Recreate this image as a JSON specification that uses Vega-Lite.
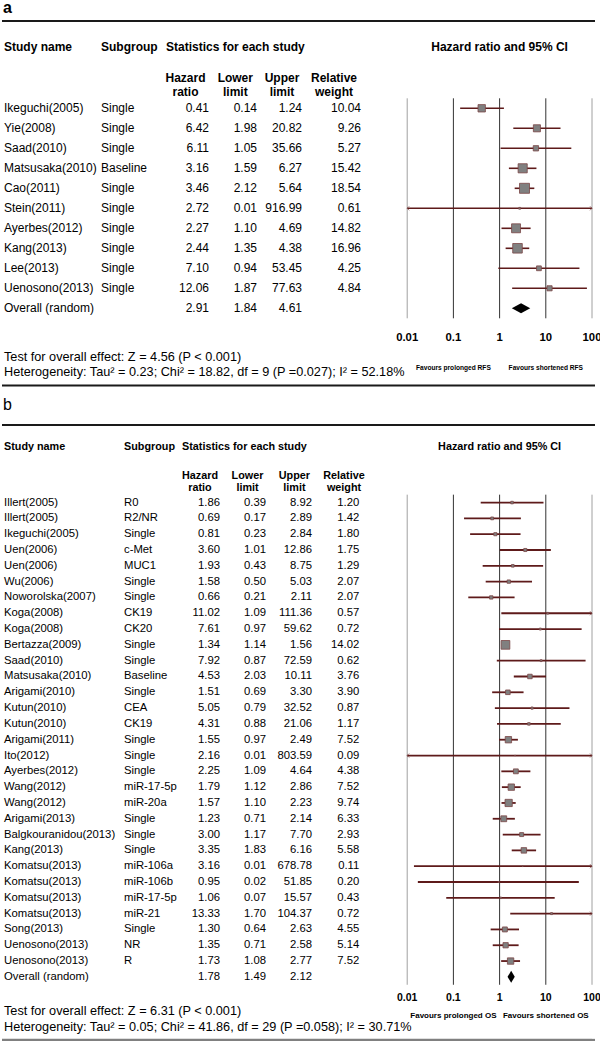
{
"$schema":"https://vega.github.io/schema/vega-lite/v6.json",
"padding":0,
"background":"white",
"autosize":{"type":"pad"},
"columns":8,
"spacing":{"row":7,"column":0},
"bounds":"flush",
"align":"each",
"config":{"view":{"stroke":null},"text":{"font":"Liberation Sans","color":"#000000"}},
"datasets":{
"rowsA":[
{"id":"r1","study":"Ikeguchi(2005)","sub":"Single","hr":0.41,"lo":0.14,"hi":1.24,"w":10.04},
{"id":"r2","study":"Yie(2008)","sub":"Single","hr":6.42,"lo":1.98,"hi":20.82,"w":9.26},
{"id":"r3","study":"Saad(2010)","sub":"Single","hr":6.11,"lo":1.05,"hi":35.66,"w":5.27},
{"id":"r4","study":"Matsusaka(2010)","sub":"Baseline","hr":3.16,"lo":1.59,"hi":6.27,"w":15.42},
{"id":"r5","study":"Cao(2011)","sub":"Single","hr":3.46,"lo":2.12,"hi":5.64,"w":18.54},
{"id":"r6","study":"Stein(2011)","sub":"Single","hr":2.72,"lo":0.01,"hi":916.99,"w":0.61},
{"id":"r7","study":"Ayerbes(2012)","sub":"Single","hr":2.27,"lo":1.10,"hi":4.69,"w":14.82},
{"id":"r8","study":"Kang(2013)","sub":"Single","hr":2.44,"lo":1.35,"hi":4.38,"w":16.96},
{"id":"r9","study":"Lee(2013)","sub":"Single","hr":7.10,"lo":0.94,"hi":53.45,"w":4.25},
{"id":"r10","study":"Uenosono(2013)","sub":"Single","hr":12.06,"lo":1.87,"hi":77.63,"w":4.84},
{"id":"overall","study":"Overall (random)","sub":"","hr":2.91,"lo":1.84,"hi":4.61,"w":null}
],
"rowsB":[
{"id":"r1","study":"Illert(2005)","sub":"R0","hr":1.86,"lo":0.39,"hi":8.92,"w":1.20},
{"id":"r2","study":"Illert(2005)","sub":"R2/NR","hr":0.69,"lo":0.17,"hi":2.89,"w":1.42},
{"id":"r3","study":"Ikeguchi(2005)","sub":"Single","hr":0.81,"lo":0.23,"hi":2.84,"w":1.80},
{"id":"r4","study":"Uen(2006)","sub":"c-Met","hr":3.60,"lo":1.01,"hi":12.86,"w":1.75},
{"id":"r5","study":"Uen(2006)","sub":"MUC1","hr":1.93,"lo":0.43,"hi":8.75,"w":1.29},
{"id":"r6","study":"Wu(2006)","sub":"Single","hr":1.58,"lo":0.50,"hi":5.03,"w":2.07},
{"id":"r7","study":"Noworolska(2007)","sub":"Single","hr":0.66,"lo":0.21,"hi":2.11,"w":2.07},
{"id":"r8","study":"Koga(2008)","sub":"CK19","hr":11.02,"lo":1.09,"hi":111.36,"w":0.57},
{"id":"r9","study":"Koga(2008)","sub":"CK20","hr":7.61,"lo":0.97,"hi":59.62,"w":0.72},
{"id":"r10","study":"Bertazza(2009)","sub":"Single","hr":1.34,"lo":1.14,"hi":1.56,"w":14.02},
{"id":"r11","study":"Saad(2010)","sub":"Single","hr":7.92,"lo":0.87,"hi":72.59,"w":0.62},
{"id":"r12","study":"Matsusaka(2010)","sub":"Baseline","hr":4.53,"lo":2.03,"hi":10.11,"w":3.76},
{"id":"r13","study":"Arigami(2010)","sub":"Single","hr":1.51,"lo":0.69,"hi":3.30,"w":3.90},
{"id":"r14","study":"Kutun(2010)","sub":"CEA","hr":5.05,"lo":0.79,"hi":32.52,"w":0.87},
{"id":"r15","study":"Kutun(2010)","sub":"CK19","hr":4.31,"lo":0.88,"hi":21.06,"w":1.17},
{"id":"r16","study":"Arigami(2011)","sub":"Single","hr":1.55,"lo":0.97,"hi":2.49,"w":7.52},
{"id":"r17","study":"Ito(2012)","sub":"Single","hr":2.16,"lo":0.01,"hi":803.59,"w":0.09},
{"id":"r18","study":"Ayerbes(2012)","sub":"Single","hr":2.25,"lo":1.09,"hi":4.64,"w":4.38},
{"id":"r19","study":"Wang(2012)","sub":"miR-17-5p","hr":1.79,"lo":1.12,"hi":2.86,"w":7.52},
{"id":"r20","study":"Wang(2012)","sub":"miR-20a","hr":1.57,"lo":1.10,"hi":2.23,"w":9.74},
{"id":"r21","study":"Arigami(2013)","sub":"Single","hr":1.23,"lo":0.71,"hi":2.14,"w":6.33},
{"id":"r22","study":"Balgkouranidou(2013)","sub":"Single","hr":3.00,"lo":1.17,"hi":7.70,"w":2.93},
{"id":"r23","study":"Kang(2013)","sub":"Single","hr":3.35,"lo":1.83,"hi":6.16,"w":5.58},
{"id":"r24","study":"Komatsu(2013)","sub":"miR-106a","hr":3.16,"lo":0.014,"hi":678.78,"w":0.11},
{"id":"r25","study":"Komatsu(2013)","sub":"miR-106b","hr":0.95,"lo":0.017,"hi":51.85,"w":0.20},
{"id":"r26","study":"Komatsu(2013)","sub":"miR-17-5p","hr":1.06,"lo":0.07,"hi":15.57,"w":0.43},
{"id":"r27","study":"Komatsu(2013)","sub":"miR-21","hr":13.33,"lo":1.70,"hi":104.37,"w":0.72},
{"id":"r28","study":"Song(2013)","sub":"Single","hr":1.30,"lo":0.64,"hi":2.63,"w":4.55},
{"id":"r29","study":"Uenosono(2013)","sub":"NR","hr":1.35,"lo":0.71,"hi":2.58,"w":5.14},
{"id":"r30","study":"Uenosono(2013)","sub":"R","hr":1.73,"lo":1.08,"hi":2.77,"w":7.52},
{"id":"overall","study":"Overall (random)","sub":"","hr":1.78,"lo":1.49,"hi":2.12,"w":null}
]
},
"concat":[
{"width":122,"height":376.6,
"encoding":{"y":{"field":"id","type":"nominal","axis":null,"scale":{"type":"point","padding":0.83,"domain":["label","rule","_2","_3","head","_5","_6","sub","_8","gtop","r1","_11","r2","_13","r3","_15","r4","_17","r5","_19","r6","_21","r7","_23","r8","_25","r9","_27","r10","_29","overall","gbot","_32","axis","_34","test","het"]}}},
"layer":[
{"data":{"values":[{"id":"rule"}]},"mark":{"type":"rule","color":"#1a1a1a","strokeWidth":2,"yOffset":2.7},"encoding":{}},
{"data":{"values":[{"id":"label","t":"a"}]},"mark":{"type":"text","align":"left","fontSize":16,"fontWeight":"bold","dx":1},"encoding":{"x":{"datum":"start","type":"nominal","axis":null,"scale":{"type":"point","domain":["start","end"],"padding":0}},"text":{"field":"t"}}},
{"data":{"values":[{"id":"head","t":"Study name"}]},"mark":{"type":"text","align":"left","fontSize":12,"fontWeight":"bold","dx":2,"dy":-1},"encoding":{"x":{"datum":"start","type":"nominal","axis":null,"scale":{"type":"point","domain":["start","end"],"padding":0}},"text":{"field":"t"}}},
{"data":{"name":"rowsA"},"mark":{"type":"text","align":"left","fontSize":12,"dx":2},"encoding":{"x":{"datum":"start","type":"nominal","axis":null,"scale":{"type":"point","domain":["start","end"],"padding":0}},"text":{"field":"study"}}},
{"data":{"values":[{"id":"test","t":"Test for overall effect: Z = 4.56 (P < 0.001)"}]},"mark":{"type":"text","align":"left","fontSize":12.7,"dx":2,"dy":-1},"encoding":{"x":{"datum":"start","type":"nominal","axis":null,"scale":{"type":"point","domain":["start","end"],"padding":0}},"text":{"field":"t"}}},
{"data":{"values":[{"id":"het","t":"Heterogeneity: Tau² = 0.23; Chi² = 18.82, df = 9 (P =0.027); I² = 52.18%"}]},"mark":{"type":"text","align":"left","fontSize":12.7,"dx":2,"dy":3.5},"encoding":{"x":{"datum":"start","type":"nominal","axis":null,"scale":{"type":"point","domain":["start","end"],"padding":0}},"text":{"field":"t"}}}
]},
{"width":53,"height":376.6,
"encoding":{"y":{"field":"id","type":"nominal","axis":null,"scale":{"type":"point","padding":0.83,"domain":["label","rule","_2","_3","head","_5","_6","sub","_8","gtop","r1","_11","r2","_13","r3","_15","r4","_17","r5","_19","r6","_21","r7","_23","r8","_25","r9","_27","r10","_29","overall","gbot","_32","axis","_34","test","het"]}}},
"layer":[
{"data":{"values":[{"id":"rule"}]},"mark":{"type":"rule","color":"#1a1a1a","strokeWidth":2,"yOffset":2.7},"encoding":{}},
{"data":{"values":[{"id":"head","t":"Subgroup"}]},"mark":{"type":"text","align":"left","fontSize":12,"fontWeight":"bold","dx":-23,"dy":-1},"encoding":{"x":{"datum":"start","type":"nominal","axis":null,"scale":{"type":"point","domain":["start","end"],"padding":0}},"text":{"field":"t"}}},
{"data":{"name":"rowsA"},"mark":{"type":"text","align":"left","fontSize":12,"dx":-23},"encoding":{"x":{"datum":"start","type":"nominal","axis":null,"scale":{"type":"point","domain":["start","end"],"padding":0}},"text":{"field":"sub"}}}
]},
{"width":43,"height":376.6,
"encoding":{"y":{"field":"id","type":"nominal","axis":null,"scale":{"type":"point","padding":0.83,"domain":["label","rule","_2","_3","head","_5","_6","sub","_8","gtop","r1","_11","r2","_13","r3","_15","r4","_17","r5","_19","r6","_21","r7","_23","r8","_25","r9","_27","r10","_29","overall","gbot","_32","axis","_34","test","het"]}}},
"layer":[
{"data":{"values":[{"id":"rule"}]},"mark":{"type":"rule","color":"#1a1a1a","strokeWidth":2,"yOffset":2.7},"encoding":{}},
{"data":{"values":[{"id":"head","t":"Statistics for each study"}]},"mark":{"type":"text","align":"left","fontSize":12,"fontWeight":"bold","dx":-11,"dy":-1},"encoding":{"x":{"datum":"start","type":"nominal","axis":null,"scale":{"type":"point","domain":["start","end"],"padding":0}},"text":{"field":"t"}}},
{"data":{"values":[{"id":"sub","t":"Hazard\nratio"}]},"mark":{"type":"text","align":"center","fontSize":12,"fontWeight":"bold","lineBreak":"\n","lineHeight":14,"dx":-34.5},"encoding":{"x":{"datum":"end","type":"nominal","axis":null,"scale":{"type":"point","domain":["start","end"],"padding":0}},"text":{"field":"t"}}},
{"data":{"name":"rowsA"},"mark":{"type":"text","align":"right","fontSize":12,"dx":-11},"encoding":{"x":{"datum":"end","type":"nominal","axis":null,"scale":{"type":"point","domain":["start","end"],"padding":0}},"text":{"field":"hr","type":"quantitative","format":".2f"}}}
]},
{"width":46,"height":376.6,
"encoding":{"y":{"field":"id","type":"nominal","axis":null,"scale":{"type":"point","padding":0.83,"domain":["label","rule","_2","_3","head","_5","_6","sub","_8","gtop","r1","_11","r2","_13","r3","_15","r4","_17","r5","_19","r6","_21","r7","_23","r8","_25","r9","_27","r10","_29","overall","gbot","_32","axis","_34","test","het"]}}},
"layer":[
{"data":{"values":[{"id":"rule"}]},"mark":{"type":"rule","color":"#1a1a1a","strokeWidth":2,"yOffset":2.7},"encoding":{}},
{"data":{"values":[{"id":"sub","t":"Lower\nlimit"}]},"mark":{"type":"text","align":"center","fontSize":12,"fontWeight":"bold","lineBreak":"\n","lineHeight":14,"dx":-30.7},"encoding":{"x":{"datum":"end","type":"nominal","axis":null,"scale":{"type":"point","domain":["start","end"],"padding":0}},"text":{"field":"t"}}},
{"data":{"name":"rowsA"},"mark":{"type":"text","align":"right","fontSize":12,"dx":-9},"encoding":{"x":{"datum":"end","type":"nominal","axis":null,"scale":{"type":"point","domain":["start","end"],"padding":0}},"text":{"field":"lo","type":"quantitative","format":".2f"}}}
]},
{"width":46,"height":376.6,
"encoding":{"y":{"field":"id","type":"nominal","axis":null,"scale":{"type":"point","padding":0.83,"domain":["label","rule","_2","_3","head","_5","_6","sub","_8","gtop","r1","_11","r2","_13","r3","_15","r4","_17","r5","_19","r6","_21","r7","_23","r8","_25","r9","_27","r10","_29","overall","gbot","_32","axis","_34","test","het"]}}},
"layer":[
{"data":{"values":[{"id":"rule"}]},"mark":{"type":"rule","color":"#1a1a1a","strokeWidth":2,"yOffset":2.7},"encoding":{}},
{"data":{"values":[{"id":"sub","t":"Upper\nlimit"}]},"mark":{"type":"text","align":"center","fontSize":12,"fontWeight":"bold","lineBreak":"\n","lineHeight":14,"dx":-30},"encoding":{"x":{"datum":"end","type":"nominal","axis":null,"scale":{"type":"point","domain":["start","end"],"padding":0}},"text":{"field":"t"}}},
{"data":{"name":"rowsA"},"mark":{"type":"text","align":"right","fontSize":12,"dx":-10},"encoding":{"x":{"datum":"end","type":"nominal","axis":null,"scale":{"type":"point","domain":["start","end"],"padding":0}},"text":{"field":"hi","type":"quantitative","format":".2f"}}}
]},
{"width":49,"height":376.6,
"encoding":{"y":{"field":"id","type":"nominal","axis":null,"scale":{"type":"point","padding":0.83,"domain":["label","rule","_2","_3","head","_5","_6","sub","_8","gtop","r1","_11","r2","_13","r3","_15","r4","_17","r5","_19","r6","_21","r7","_23","r8","_25","r9","_27","r10","_29","overall","gbot","_32","axis","_34","test","het"]}}},
"layer":[
{"data":{"values":[{"id":"rule"}]},"mark":{"type":"rule","color":"#1a1a1a","strokeWidth":2,"yOffset":2.7},"encoding":{}},
{"data":{"values":[{"id":"sub","t":"Relative\nweight"}]},"mark":{"type":"text","align":"center","fontSize":12,"fontWeight":"bold","lineBreak":"\n","lineHeight":14,"dx":-27},"encoding":{"x":{"datum":"end","type":"nominal","axis":null,"scale":{"type":"point","domain":["start","end"],"padding":0}},"text":{"field":"t"}}},
{"data":{"name":"rowsA"},"transform":[{"filter":"datum.w != null"}],"mark":{"type":"text","align":"right","fontSize":12},"encoding":{"x":{"datum":"end","type":"nominal","axis":null,"scale":{"type":"point","domain":["start","end"],"padding":0}},"text":{"field":"w","type":"quantitative","format":".2f"}}}
]},
{"width":231,"height":376.6,
"encoding":{"y":{"field":"id","type":"nominal","axis":null,"scale":{"type":"point","padding":0.83,"domain":["label","rule","_2","_3","head","_5","_6","sub","_8","gtop","r1","_11","r2","_13","r3","_15","r4","_17","r5","_19","r6","_21","r7","_23","r8","_25","r9","_27","r10","_29","overall","gbot","_32","axis","_34","test","het"]}}},
"layer":[
{"data":{"values":[{"id":"rule"}]},"mark":{"type":"rule","color":"#1a1a1a","strokeWidth":2,"yOffset":2.7},"encoding":{}},
{"data":{"values":[{"id":"head","t":"Hazard ratio and 95% CI"}]},"mark":{"type":"text","align":"center","fontSize":12,"fontWeight":"bold","dy":-1},"encoding":{"x":{"datum":1,"type":"quantitative","axis":null,"scale":{"type":"log","domain":[0.001,100],"clamp":true,"nice":false}},"text":{"field":"t"}}},
{"data":{"values":[{"v":0.01},{"v":0.1},{"v":1},{"v":10},{"v":100}]},"mark":{"type":"rule","strokeWidth":1},"encoding":{"x":{"field":"v","type":"quantitative","axis":null,"scale":{"type":"log","domain":[0.001,100],"clamp":true,"nice":false}},"y":{"datum":"gtop","type":"nominal"},"y2":{"datum":"gbot"},"color":{"condition":{"test":"datum.v == 0.01 || datum.v == 100","value":"#a0a0a0"},"value":"#333333"}}},
{"data":{"values":[{"v":0.01},{"v":0.1},{"v":1},{"v":10},{"v":100}]},"mark":{"type":"text","align":"center","fontSize":11.3,"fontWeight":"bold"},"encoding":{"x":{"field":"v","type":"quantitative","axis":null,"scale":{"type":"log","domain":[0.001,100],"clamp":true,"nice":false}},"y":{"datum":"axis","type":"nominal"},"text":{"field":"v","type":"nominal"}}},
{"data":{"name":"rowsA"},"transform":[{"filter":"datum.id != 'overall'"}],"mark":{"type":"rule","color":"#5e1a1a","strokeWidth":1.6},"encoding":{"x":{"field":"lo","type":"quantitative","axis":null,"scale":{"type":"log","domain":[0.001,100],"clamp":true,"nice":false}},"x2":{"field":"hi"}}},
{"data":{"name":"rowsA"},"transform":[{"filter":"datum.hi >= 100"}],"mark":{"type":"point","shape":"M-1,-1L0,0L-1,1","filled":false,"color":"#8a5555","strokeWidth":0.8,"size":16,"opacity":1},"encoding":{"x":{"field":"hi","type":"quantitative","axis":null,"scale":{"type":"log","domain":[0.001,100],"clamp":true,"nice":false}}}},
{"data":{"name":"rowsA"},"transform":[{"filter":"datum.lo <= 0.01"}],"mark":{"type":"point","shape":"M1,-1L0,0L1,1","filled":false,"color":"#8a5555","strokeWidth":0.8,"size":16,"opacity":1},"encoding":{"x":{"field":"lo","type":"quantitative","axis":null,"scale":{"type":"log","domain":[0.001,100],"clamp":true,"nice":false}}}},
{"data":{"name":"rowsA"},"transform":[{"filter":"datum.id != 'overall'"}],"mark":{"type":"point","shape":"square","filled":true,"fill":"#808080","stroke":"#7a4545","strokeWidth":0.8,"opacity":1},"encoding":{"x":{"field":"hr","type":"quantitative","axis":null,"scale":{"type":"log","domain":[0.001,100],"clamp":true,"nice":false}},"size":{"field":"w","type":"quantitative","legend":null,"scale":{"type":"linear","domain":[0,20],"range":[0,108]}}}},
{"data":{"name":"rowsA"},"transform":[{"filter":"datum.id == 'overall'"}],"mark":{"type":"point","shape":"M-1,0L0,-0.55L1,0L0,0.55Z","filled":true,"fill":"#000000","strokeWidth":0,"size":339,"opacity":1},"encoding":{"x":{"field":"hr","type":"quantitative","axis":null,"scale":{"type":"log","domain":[0.001,100],"clamp":true,"nice":false}}}},
{"data":{"values":[{"id":"het","v":0.1,"t":"Favours prolonged RFS"},{"id":"het","v":10,"t":"Favours shortened RFS"}]},"mark":{"type":"text","align":"center","fontSize":6.6,"fontWeight":"bold"},"encoding":{"x":{"field":"v","type":"quantitative","axis":null,"scale":{"type":"log","domain":[0.001,100],"clamp":true,"nice":false}},"text":{"field":"t"}}}
]},
{"width":3,"height":376.6,
"encoding":{"y":{"field":"id","type":"nominal","axis":null,"scale":{"type":"point","padding":0.83,"domain":["label","rule","_2","_3","head","_5","_6","sub","_8","gtop","r1","_11","r2","_13","r3","_15","r4","_17","r5","_19","r6","_21","r7","_23","r8","_25","r9","_27","r10","_29","overall","gbot","_32","axis","_34","test","het"]}}},
"layer":[
{"data":{"values":[{"id":"rule"}]},"mark":{"type":"rule","color":"#1a1a1a","strokeWidth":2,"yOffset":2.7},"encoding":{}}
]},
{"width":122,"height":656.1,
"encoding":{"y":{"field":"id","type":"nominal","axis":null,"scale":{"type":"point","padding":0,"domain":["rule0","_1","_2","label","_4","rule1","_6","_7","head","_9","_10","_11","sub","_13","gtop","r1","_16","r2","_18","r3","_20","r4","_22","r5","_24","r6","_26","r7","_28","r8","_30","r9","_32","r10","_34","r11","_36","r12","_38","r13","_40","r14","_42","r15","_44","r16","_46","r17","_48","r18","_50","r19","_52","r20","_54","r21","_56","r22","_58","r23","_60","r24","_62","r25","_64","r26","_66","r27","_68","r28","_70","r29","_72","r30","_74","overall","gbot","_77","axis","test","fav","het","_82","rule2"]}}},
"layer":[
{"data":{"values":[{"id":"rule0"},{"id":"rule1"}]},"mark":{"type":"rule","color":"#1a1a1a","strokeWidth":2,"yOffset":1.5},"encoding":{}},
{"data":{"values":[{"id":"rule2"}]},"mark":{"type":"rule","color":"#808080","strokeWidth":2.5},"encoding":{}},
{"data":{"values":[{"id":"label","t":"b"}]},"mark":{"type":"text","align":"left","fontSize":16,"dx":1,"dy":-2.5},"encoding":{"x":{"datum":"start","type":"nominal","axis":null,"scale":{"type":"point","domain":["start","end"],"padding":0}},"text":{"field":"t"}}},
{"data":{"values":[{"id":"head","t":"Study name"}]},"mark":{"type":"text","align":"left","fontSize":10.8,"fontWeight":"bold","dx":2},"encoding":{"x":{"datum":"start","type":"nominal","axis":null,"scale":{"type":"point","domain":["start","end"],"padding":0}},"text":{"field":"t"}}},
{"data":{"name":"rowsB"},"mark":{"type":"text","align":"left","fontSize":11.3,"dx":2},"encoding":{"x":{"datum":"start","type":"nominal","axis":null,"scale":{"type":"point","domain":["start","end"],"padding":0}},"text":{"field":"study"}}},
{"data":{"values":[{"id":"test","t":"Test for overall effect: Z = 6.31 (P < 0.001)"}]},"mark":{"type":"text","align":"left","fontSize":12.7,"dx":2,"dy":3},"encoding":{"x":{"datum":"start","type":"nominal","axis":null,"scale":{"type":"point","domain":["start","end"],"padding":0}},"text":{"field":"t"}}},
{"data":{"values":[{"id":"het","t":"Heterogeneity: Tau² = 0.05; Chi² = 41.86, df = 29 (P =0.058); I² = 30.71%"}]},"mark":{"type":"text","align":"left","fontSize":12.7,"dx":2,"dy":3},"encoding":{"x":{"datum":"start","type":"nominal","axis":null,"scale":{"type":"point","domain":["start","end"],"padding":0}},"text":{"field":"t"}}}
]},
{"width":53,"height":656.1,
"encoding":{"y":{"field":"id","type":"nominal","axis":null,"scale":{"type":"point","padding":0,"domain":["rule0","_1","_2","label","_4","rule1","_6","_7","head","_9","_10","_11","sub","_13","gtop","r1","_16","r2","_18","r3","_20","r4","_22","r5","_24","r6","_26","r7","_28","r8","_30","r9","_32","r10","_34","r11","_36","r12","_38","r13","_40","r14","_42","r15","_44","r16","_46","r17","_48","r18","_50","r19","_52","r20","_54","r21","_56","r22","_58","r23","_60","r24","_62","r25","_64","r26","_66","r27","_68","r28","_70","r29","_72","r30","_74","overall","gbot","_77","axis","test","fav","het","_82","rule2"]}}},
"layer":[
{"data":{"values":[{"id":"rule0"},{"id":"rule1"}]},"mark":{"type":"rule","color":"#1a1a1a","strokeWidth":2,"yOffset":1.5},"encoding":{}},
{"data":{"values":[{"id":"rule2"}]},"mark":{"type":"rule","color":"#808080","strokeWidth":2.5},"encoding":{}},
{"data":{"values":[{"id":"head","t":"Subgroup"}]},"mark":{"type":"text","align":"left","fontSize":10.8,"fontWeight":"bold"},"encoding":{"x":{"datum":"start","type":"nominal","axis":null,"scale":{"type":"point","domain":["start","end"],"padding":0}},"text":{"field":"t"}}},
{"data":{"name":"rowsB"},"mark":{"type":"text","align":"left","fontSize":11.3},"encoding":{"x":{"datum":"start","type":"nominal","axis":null,"scale":{"type":"point","domain":["start","end"],"padding":0}},"text":{"field":"sub"}}}
]},
{"width":43,"height":656.1,
"encoding":{"y":{"field":"id","type":"nominal","axis":null,"scale":{"type":"point","padding":0,"domain":["rule0","_1","_2","label","_4","rule1","_6","_7","head","_9","_10","_11","sub","_13","gtop","r1","_16","r2","_18","r3","_20","r4","_22","r5","_24","r6","_26","r7","_28","r8","_30","r9","_32","r10","_34","r11","_36","r12","_38","r13","_40","r14","_42","r15","_44","r16","_46","r17","_48","r18","_50","r19","_52","r20","_54","r21","_56","r22","_58","r23","_60","r24","_62","r25","_64","r26","_66","r27","_68","r28","_70","r29","_72","r30","_74","overall","gbot","_77","axis","test","fav","het","_82","rule2"]}}},
"layer":[
{"data":{"values":[{"id":"rule0"},{"id":"rule1"}]},"mark":{"type":"rule","color":"#1a1a1a","strokeWidth":2,"yOffset":1.5},"encoding":{}},
{"data":{"values":[{"id":"rule2"}]},"mark":{"type":"rule","color":"#808080","strokeWidth":2.5},"encoding":{}},
{"data":{"values":[{"id":"head","t":"Statistics for each study"}]},"mark":{"type":"text","align":"left","fontSize":10.8,"fontWeight":"bold","dx":5},"encoding":{"x":{"datum":"start","type":"nominal","axis":null,"scale":{"type":"point","domain":["start","end"],"padding":0}},"text":{"field":"t"}}},
{"data":{"values":[{"id":"sub","t":"Hazard\nratio"}]},"mark":{"type":"text","align":"center","fontSize":10.8,"fontWeight":"bold","lineBreak":"\n","lineHeight":12,"dx":-20,"dy":-3},"encoding":{"x":{"datum":"end","type":"nominal","axis":null,"scale":{"type":"point","domain":["start","end"],"padding":0}},"text":{"field":"t"}}},
{"data":{"name":"rowsB"},"mark":{"type":"text","align":"right","fontSize":11.3},"encoding":{"x":{"datum":"end","type":"nominal","axis":null,"scale":{"type":"point","domain":["start","end"],"padding":0}},"text":{"field":"hr","type":"quantitative","format":".2f"}}}
]},
{"width":46,"height":656.1,
"encoding":{"y":{"field":"id","type":"nominal","axis":null,"scale":{"type":"point","padding":0,"domain":["rule0","_1","_2","label","_4","rule1","_6","_7","head","_9","_10","_11","sub","_13","gtop","r1","_16","r2","_18","r3","_20","r4","_22","r5","_24","r6","_26","r7","_28","r8","_30","r9","_32","r10","_34","r11","_36","r12","_38","r13","_40","r14","_42","r15","_44","r16","_46","r17","_48","r18","_50","r19","_52","r20","_54","r21","_56","r22","_58","r23","_60","r24","_62","r25","_64","r26","_66","r27","_68","r28","_70","r29","_72","r30","_74","overall","gbot","_77","axis","test","fav","het","_82","rule2"]}}},
"layer":[
{"data":{"values":[{"id":"rule0"},{"id":"rule1"}]},"mark":{"type":"rule","color":"#1a1a1a","strokeWidth":2,"yOffset":1.5},"encoding":{}},
{"data":{"values":[{"id":"rule2"}]},"mark":{"type":"rule","color":"#808080","strokeWidth":2.5},"encoding":{}},
{"data":{"values":[{"id":"sub","t":"Lower\nlimit"}]},"mark":{"type":"text","align":"center","fontSize":10.8,"fontWeight":"bold","lineBreak":"\n","lineHeight":12,"dx":-18.5,"dy":-3},"encoding":{"x":{"datum":"end","type":"nominal","axis":null,"scale":{"type":"point","domain":["start","end"],"padding":0}},"text":{"field":"t"}}},
{"data":{"name":"rowsB"},"mark":{"type":"text","align":"right","fontSize":11.3},"encoding":{"x":{"datum":"end","type":"nominal","axis":null,"scale":{"type":"point","domain":["start","end"],"padding":0}},"text":{"field":"lo","type":"quantitative","format":".2f"}}}
]},
{"width":46,"height":656.1,
"encoding":{"y":{"field":"id","type":"nominal","axis":null,"scale":{"type":"point","padding":0,"domain":["rule0","_1","_2","label","_4","rule1","_6","_7","head","_9","_10","_11","sub","_13","gtop","r1","_16","r2","_18","r3","_20","r4","_22","r5","_24","r6","_26","r7","_28","r8","_30","r9","_32","r10","_34","r11","_36","r12","_38","r13","_40","r14","_42","r15","_44","r16","_46","r17","_48","r18","_50","r19","_52","r20","_54","r21","_56","r22","_58","r23","_60","r24","_62","r25","_64","r26","_66","r27","_68","r28","_70","r29","_72","r30","_74","overall","gbot","_77","axis","test","fav","het","_82","rule2"]}}},
"layer":[
{"data":{"values":[{"id":"rule0"},{"id":"rule1"}]},"mark":{"type":"rule","color":"#1a1a1a","strokeWidth":2,"yOffset":1.5},"encoding":{}},
{"data":{"values":[{"id":"rule2"}]},"mark":{"type":"rule","color":"#808080","strokeWidth":2.5},"encoding":{}},
{"data":{"values":[{"id":"sub","t":"Upper\nlimit"}]},"mark":{"type":"text","align":"center","fontSize":10.8,"fontWeight":"bold","lineBreak":"\n","lineHeight":12,"dx":-17.6,"dy":-3},"encoding":{"x":{"datum":"end","type":"nominal","axis":null,"scale":{"type":"point","domain":["start","end"],"padding":0}},"text":{"field":"t"}}},
{"data":{"name":"rowsB"},"mark":{"type":"text","align":"right","fontSize":11.3},"encoding":{"x":{"datum":"end","type":"nominal","axis":null,"scale":{"type":"point","domain":["start","end"],"padding":0}},"text":{"field":"hi","type":"quantitative","format":".2f"}}}
]},
{"width":49,"height":656.1,
"encoding":{"y":{"field":"id","type":"nominal","axis":null,"scale":{"type":"point","padding":0,"domain":["rule0","_1","_2","label","_4","rule1","_6","_7","head","_9","_10","_11","sub","_13","gtop","r1","_16","r2","_18","r3","_20","r4","_22","r5","_24","r6","_26","r7","_28","r8","_30","r9","_32","r10","_34","r11","_36","r12","_38","r13","_40","r14","_42","r15","_44","r16","_46","r17","_48","r18","_50","r19","_52","r20","_54","r21","_56","r22","_58","r23","_60","r24","_62","r25","_64","r26","_66","r27","_68","r28","_70","r29","_72","r30","_74","overall","gbot","_77","axis","test","fav","het","_82","rule2"]}}},
"layer":[
{"data":{"values":[{"id":"rule0"},{"id":"rule1"}]},"mark":{"type":"rule","color":"#1a1a1a","strokeWidth":2,"yOffset":1.5},"encoding":{}},
{"data":{"values":[{"id":"rule2"}]},"mark":{"type":"rule","color":"#808080","strokeWidth":2.5},"encoding":{}},
{"data":{"values":[{"id":"sub","t":"Relative\nweight"}]},"mark":{"type":"text","align":"center","fontSize":10.8,"fontWeight":"bold","lineBreak":"\n","lineHeight":12,"dx":-17,"dy":-3},"encoding":{"x":{"datum":"end","type":"nominal","axis":null,"scale":{"type":"point","domain":["start","end"],"padding":0}},"text":{"field":"t"}}},
{"data":{"name":"rowsB"},"transform":[{"filter":"datum.w != null"}],"mark":{"type":"text","align":"right","fontSize":11.3,"dx":-1.7},"encoding":{"x":{"datum":"end","type":"nominal","axis":null,"scale":{"type":"point","domain":["start","end"],"padding":0}},"text":{"field":"w","type":"quantitative","format":".2f"}}}
]},
{"width":231,"height":656.1,
"encoding":{"y":{"field":"id","type":"nominal","axis":null,"scale":{"type":"point","padding":0,"domain":["rule0","_1","_2","label","_4","rule1","_6","_7","head","_9","_10","_11","sub","_13","gtop","r1","_16","r2","_18","r3","_20","r4","_22","r5","_24","r6","_26","r7","_28","r8","_30","r9","_32","r10","_34","r11","_36","r12","_38","r13","_40","r14","_42","r15","_44","r16","_46","r17","_48","r18","_50","r19","_52","r20","_54","r21","_56","r22","_58","r23","_60","r24","_62","r25","_64","r26","_66","r27","_68","r28","_70","r29","_72","r30","_74","overall","gbot","_77","axis","test","fav","het","_82","rule2"]}}},
"layer":[
{"data":{"values":[{"id":"rule0"},{"id":"rule1"}]},"mark":{"type":"rule","color":"#1a1a1a","strokeWidth":2,"yOffset":1.5},"encoding":{}},
{"data":{"values":[{"id":"rule2"}]},"mark":{"type":"rule","color":"#808080","strokeWidth":2.5},"encoding":{}},
{"data":{"values":[{"id":"head","t":"Hazard ratio and 95% CI"}]},"mark":{"type":"text","align":"center","fontSize":10.8,"fontWeight":"bold"},"encoding":{"x":{"datum":1,"type":"quantitative","axis":null,"scale":{"type":"log","domain":[0.001,100],"clamp":true,"nice":false}},"text":{"field":"t"}}},
{"data":{"values":[{"v":0.01},{"v":0.1},{"v":1},{"v":10},{"v":100}]},"mark":{"type":"rule","strokeWidth":1},"encoding":{"x":{"field":"v","type":"quantitative","axis":null,"scale":{"type":"log","domain":[0.001,100],"clamp":true,"nice":false}},"y":{"datum":"gtop","type":"nominal"},"y2":{"datum":"gbot"},"color":{"condition":{"test":"datum.v == 0.01 || datum.v == 100","value":"#a0a0a0"},"value":"#333333"}}},
{"data":{"values":[{"v":0.01},{"v":0.1},{"v":1},{"v":10},{"v":100}]},"mark":{"type":"text","align":"center","fontSize":10.5,"fontWeight":"bold","dy":-3},"encoding":{"x":{"field":"v","type":"quantitative","axis":null,"scale":{"type":"log","domain":[0.001,100],"clamp":true,"nice":false}},"y":{"datum":"axis","type":"nominal"},"text":{"field":"v","type":"nominal"}}},
{"data":{"name":"rowsB"},"transform":[{"filter":"datum.id != 'overall'"}],"mark":{"type":"rule","color":"#5e1a1a","strokeWidth":1.8},"encoding":{"x":{"field":"lo","type":"quantitative","axis":null,"scale":{"type":"log","domain":[0.001,100],"clamp":true,"nice":false}},"x2":{"field":"hi"}}},
{"data":{"name":"rowsB"},"transform":[{"filter":"datum.hi >= 100"}],"mark":{"type":"point","shape":"M-1,-1L0,0L-1,1","filled":false,"color":"#8a5555","strokeWidth":0.8,"size":16,"opacity":1},"encoding":{"x":{"field":"hi","type":"quantitative","axis":null,"scale":{"type":"log","domain":[0.001,100],"clamp":true,"nice":false}}}},
{"data":{"name":"rowsB"},"transform":[{"filter":"datum.lo <= 0.01"}],"mark":{"type":"point","shape":"M1,-1L0,0L1,1","filled":false,"color":"#8a5555","strokeWidth":0.8,"size":16,"opacity":1},"encoding":{"x":{"field":"lo","type":"quantitative","axis":null,"scale":{"type":"log","domain":[0.001,100],"clamp":true,"nice":false}}}},
{"data":{"name":"rowsB"},"transform":[{"filter":"datum.id != 'overall'"}],"mark":{"type":"point","shape":"square","filled":true,"fill":"#808080","stroke":"#7a4545","strokeWidth":0.8,"opacity":1},"encoding":{"x":{"field":"hr","type":"quantitative","axis":null,"scale":{"type":"log","domain":[0.001,100],"clamp":true,"nice":false}},"size":{"field":"w","type":"quantitative","legend":null,"scale":{"type":"linear","domain":[0,15],"range":[0,150]}}}},
{"data":{"name":"rowsB"},"transform":[{"filter":"datum.id == 'overall'"}],"mark":{"type":"point","shape":"M-0.6,0L0,-1L0.6,0L0,1Z","filled":true,"fill":"#000000","strokeWidth":0,"size":144,"opacity":1},"encoding":{"x":{"field":"hr","type":"quantitative","axis":null,"scale":{"type":"log","domain":[0.001,100],"clamp":true,"nice":false}}}},
{"data":{"values":[{"id":"fav","v":0.1,"t":"Favours prolonged OS"},{"id":"fav","v":10,"t":"Favours shortened OS"}]},"mark":{"type":"text","align":"center","fontSize":8,"fontWeight":"bold"},"encoding":{"x":{"field":"v","type":"quantitative","axis":null,"scale":{"type":"log","domain":[0.001,100],"clamp":true,"nice":false}},"text":{"field":"t"}}}
]},
{"width":3,"height":656.1,
"encoding":{"y":{"field":"id","type":"nominal","axis":null,"scale":{"type":"point","padding":0,"domain":["rule0","_1","_2","label","_4","rule1","_6","_7","head","_9","_10","_11","sub","_13","gtop","r1","_16","r2","_18","r3","_20","r4","_22","r5","_24","r6","_26","r7","_28","r8","_30","r9","_32","r10","_34","r11","_36","r12","_38","r13","_40","r14","_42","r15","_44","r16","_46","r17","_48","r18","_50","r19","_52","r20","_54","r21","_56","r22","_58","r23","_60","r24","_62","r25","_64","r26","_66","r27","_68","r28","_70","r29","_72","r30","_74","overall","gbot","_77","axis","test","fav","het","_82","rule2"]}}},
"layer":[
{"data":{"values":[{"id":"rule0"},{"id":"rule1"}]},"mark":{"type":"rule","color":"#1a1a1a","strokeWidth":2,"yOffset":1.5},"encoding":{}},
{"data":{"values":[{"id":"rule2"}]},"mark":{"type":"rule","color":"#808080","strokeWidth":2.5},"encoding":{}}
]}
]
}
